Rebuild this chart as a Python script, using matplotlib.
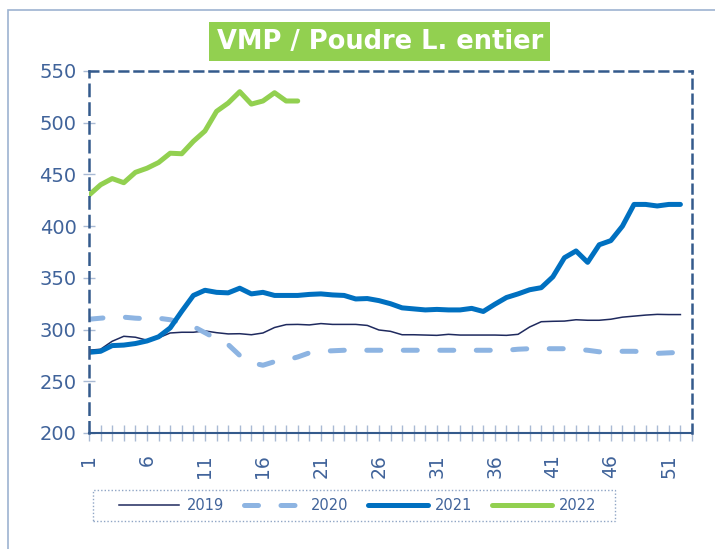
import matplotlib.pyplot as plt
from matplotlib.patches import Rectangle

# weekly values
weeks = list(range(1, 53))
v2019 = [280, 281, 288.7, 293.5, 292.6, 289.7, 292, 296.7, 297.4, 297.4,
         298.7, 297, 295.8, 296, 295, 296.7, 302, 304.8, 305, 304.5,
         305.8, 305, 305, 305, 304, 299.6, 298.3, 295, 295, 294.7,
         294.4, 295.4, 294.7, 294.7, 294.7, 294.7, 294.4, 295.4, 302.5, 307.6,
         308, 308.2, 309.5, 309, 309, 310, 312, 313, 314, 314.7,
         314.5, 314.5]
v2020 = [310, 311, 312, 312, 311, 310.5, 311, 309.5, 306.5, 303,
         297, 291, 285.5, 275, 268, 265.5, 269, 270.5, 273.5, 277.5,
         279, 279.5, 280, 280, 280, 280, 280, 280, 280, 280,
         280, 280, 280, 280, 280, 280, 280, 281, 281.5, 281.5,
         281.5, 281.5, 281, 280, 278.5, 278.5, 279, 279, 278.5, 277,
         277.5, 278]
v2021 = [278, 279, 284.5, 285, 286.5, 289, 293, 301.6, 317.7, 333,
         338, 336, 335.5, 340, 334.5, 336, 333, 333, 333, 334,
         334.5, 333.5, 333, 329.6, 330, 328, 325, 321, 320, 319,
         319.5, 319, 319, 320.5, 317.5, 324.5, 331, 334.5, 338.5, 340.5,
         351, 369.5, 376, 365, 382, 386, 400, 421, 421, 419.5,
         421, 421]
v2022 = [430, 440, 446, 442, 452, 456, 461.5, 470.5, 470, 482,
         492, 511, 519, 530, 518, 521, 529, 521, 521]

title = "VMP / Poudre L. entier"
xtick_labels = list(range(1, 53, 5))
ytick_values = list(range(200, 551, 50))

W, H = 715, 549
label_col = '#40639A'
axis_col = '#345A8C'

fig = plt.figure(figsize=(W / 100, H / 100), dpi=100)
ax = fig.add_axes([89 / W, 1 - 433 / H, (692 - 89) / W, (433 - 71) / H])

# outer chart frame
fig.patches.append(Rectangle((8 / W, -0.1), 1.2, 1 - 10 / H + 0.1, transform=fig.transFigure,
                             fill=False, edgecolor='#9DB3D1', lw=1.2))

ax.plot(weeks, v2019, color='#1F2A5E', lw=1.1, label='2019')
ax.plot(weeks, v2020, color='#8DB4E2', lw=3.6, dashes=(2.8, 4.5),
        dash_capstyle='round', label='2020')
ax.plot(weeks, v2021, color='#0070C0', lw=3.6, solid_capstyle='round', label='2021')
ax.plot(weeks[:len(v2022)], v2022, color='#92D050', lw=3.6, solid_capstyle='round', label='2022')

ax.set_xlim(1, 53)
ax.set_ylim(200, 550)
ax.set_yticks(ytick_values)
ax.set_xticks(range(1, 54), minor=True)
ax.set_xticks(xtick_labels)
ax.set_xticklabels([str(t) for t in xtick_labels], rotation=90)

ax.tick_params(axis='y', direction='inout', length=8, width=1, color='#A9BAD4',
               labelsize=14, labelcolor=label_col, pad=5)
ax.tick_params(axis='x', which='both', direction='inout', length=12, width=1, color='#A9BAD4',
               labelsize=13.5, labelcolor=label_col, pad=9)

for side in ['top', 'right']:
    ax.spines[side].set_linestyle((0, (3.5, 2.5)))
    ax.spines[side].set_color(axis_col)
    ax.spines[side].set_linewidth(1.8)
ax.spines['left'].set_linestyle((0, (4.5, 3)))
ax.spines['left'].set_color(axis_col)
ax.spines['left'].set_linewidth(1.8)
ax.spines['bottom'].set_color(axis_col)
ax.spines['bottom'].set_linewidth(1.5)

# title in a green box
fig.patches.append(Rectangle((209 / W, 1 - 61 / H), (550 - 209) / W, 39 / H,
                             transform=fig.transFigure, facecolor='#92D050', edgecolor='none'))
fig.text(380 / W, 1 - 42 / H, title, ha='center', va='center', color='white',
         fontsize=18.5, fontweight='bold')

# legend with dotted frame
fig.patches.append(Rectangle((93 / W, 1 - 521 / H), (615 - 93) / W, 31 / H,
                             transform=fig.transFigure, fill=False, edgecolor='#8FA5C5',
                             lw=1, linestyle=(0, (1, 1.5))))
leg = fig.legend(loc='center', bbox_to_anchor=(358 / W, 1 - 505.5 / H), ncol=4,
                 frameon=False, fontsize=10.5, handlelength=4.1, handletextpad=0.5,
                 columnspacing=1.35)
for t in leg.get_texts():
    t.set_color(label_col)

fig.savefig('out.png', dpi=100)
